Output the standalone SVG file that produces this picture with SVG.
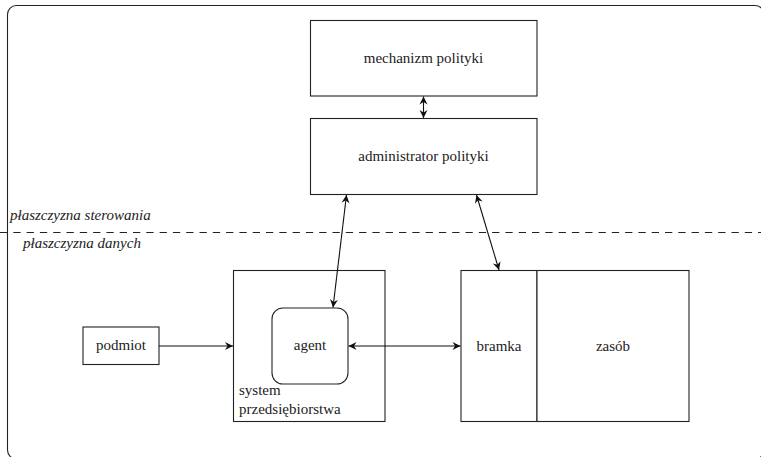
<svg xmlns="http://www.w3.org/2000/svg" width="761" height="457" viewBox="0 0 761 457">
<defs>
<style>
.box{fill:#fff;stroke:#222;stroke-width:1.1}
.frame{fill:none;stroke:#222;stroke-width:1.1}
text{font-family:'Liberation Serif','Times New Roman','DejaVu Serif','Noto Serif',serif;font-size:15px;fill:#222}
.c{text-anchor:middle}
.it{font-style:italic}
.con{fill:none;stroke:#111;stroke-width:1.1}
.dash{fill:none;stroke:#222;stroke-width:1.1;stroke-dasharray:7.3 6}
</style>
<marker id="ah" viewBox="-9 -5 10 10" refX="0" refY="0" markerWidth="10" markerHeight="10" markerUnits="userSpaceOnUse" orient="auto-start-reverse">
<path d="M0,0 L-8,-4 L-5.5,0 L-8,4 Z" fill="#111"/>
</marker>
</defs>
<rect class="frame" x="7.5" y="5.5" width="756.5" height="453.5" rx="9"/>
<line class="dash" x1="0" y1="232.5" x2="761" y2="232.5"/>
<text class="it" x="10" y="220" font-family="Liberation Serif, serif">płaszczyzna sterowania</text>
<text class="it" x="23" y="248" font-family="Liberation Serif, serif">płaszczyzna danych</text>

<g id="mechanizm">
<rect class="box" x="310.5" y="20.5" width="226.5" height="75.5"/>
<text class="c" x="423.5" y="63" font-family="Liberation Serif, serif">mechanizm polityki</text>
</g>
<g id="administrator">
<rect class="box" x="310.5" y="118.5" width="226.5" height="76"/>
<text class="c" x="423.5" y="161" font-family="Liberation Serif, serif">administrator polityki</text>
</g>
<g id="podmiot">
<rect class="box" x="83" y="327" width="76" height="37.5"/>
<text class="c" x="121" y="350" font-family="Liberation Serif, serif">podmiot</text>
</g>
<g id="system">
<rect class="box" x="233.5" y="270.5" width="151.5" height="151"/>
<text x="239" y="395" font-family="Liberation Serif, serif">system</text>
<text x="239" y="414" font-family="Liberation Serif, serif">przedsiębiorstwa</text>
</g>
<g id="agent">
<rect class="box" x="272" y="308" width="76" height="76" rx="11"/>
<text class="c" x="310" y="350" font-family="Liberation Serif, serif">agent</text>
</g>
<g id="bramka">
<rect class="box" x="461" y="270.5" width="76" height="151"/>
<text class="c" x="499" y="351" font-family="Liberation Serif, serif">bramka</text>
</g>
<g id="zasob">
<rect class="box" x="537" y="270.5" width="152" height="151"/>
<text class="c" x="613" y="351" font-family="Liberation Serif, serif">zasób</text>
</g>

<g id="connectors">
<line class="con" x1="423.5" y1="96.5" x2="423.5" y2="118" marker-start="url(#ah)" marker-end="url(#ah)"/>
<line class="con" x1="346.5" y1="195" x2="333" y2="307.5" marker-start="url(#ah)" marker-end="url(#ah)"/>
<line class="con" x1="476.5" y1="195" x2="499" y2="270" marker-start="url(#ah)" marker-end="url(#ah)"/>
<line class="con" x1="348.5" y1="346" x2="460.5" y2="346" marker-start="url(#ah)" marker-end="url(#ah)"/>
<line class="con" x1="159" y1="346" x2="233" y2="346" marker-end="url(#ah)"/>
</g>
</svg>
